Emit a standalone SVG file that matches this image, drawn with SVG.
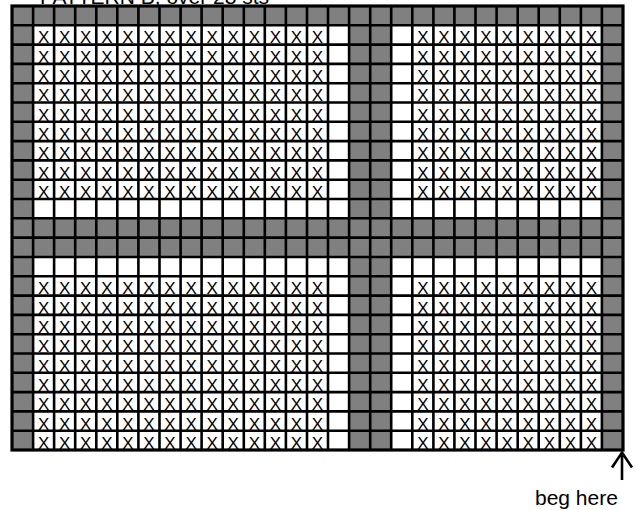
<svg xmlns="http://www.w3.org/2000/svg" xmlns:xlink="http://www.w3.org/1999/xlink" width="636" height="510" viewBox="0 0 636 510">
<style>
.lbl{font-family:"Liberation Sans",Arial,sans-serif;font-size:21px;fill:#000}
.x{font-family:"Liberation Sans",Arial,sans-serif;font-size:17px;fill:#000;text-anchor:middle}
.gray{fill:#808080}
.grid{fill:none;stroke:#000;stroke-width:2.6}
.border{fill:none;stroke:#000;stroke-width:3.2}
.arrow{fill:none;stroke:#000;stroke-width:2.6}
</style>
<defs>
<text id="xrow" class="x" x="43.6 64.7 85.7 106.8 127.9 149 170 191.1 212.2 233.2 254.3 275.4 296.4 317.5 422.9 443.9 465 486 507.1 528.2 549.3 570.3 591.4" y="0">XXXXXXXXXXXXXXXXXXXXXXX</text>
</defs>
<rect width="636" height="510" fill="#fff"/>
<text id="title" class="lbl" x="40" y="4">PATTERN B, over 28 sts</text>
<g id="chart">
<rect x="12" y="6" width="611" height="444" fill="#fff"/>
<g id="shaded">
<rect class="gray" x="12" y="6" width="611" height="19.3"/>
<rect class="gray" x="12" y="218.3" width="611" height="38.7"/>
<rect class="gray" x="12" y="6" width="21.1" height="444"/>
<rect class="gray" x="601.9" y="6" width="21.1" height="444"/>
<rect class="gray" x="349.1" y="6" width="42.1" height="444"/>
</g>
<g id="stitches">
<use xlink:href="#xrow" href="#xrow" y="43.4"/>
<use xlink:href="#xrow" href="#xrow" y="62.7"/>
<use xlink:href="#xrow" href="#xrow" y="82"/>
<use xlink:href="#xrow" href="#xrow" y="101.3"/>
<use xlink:href="#xrow" href="#xrow" y="120.6"/>
<use xlink:href="#xrow" href="#xrow" y="139.9"/>
<use xlink:href="#xrow" href="#xrow" y="159.2"/>
<use xlink:href="#xrow" href="#xrow" y="178.5"/>
<use xlink:href="#xrow" href="#xrow" y="197.8"/>
<use xlink:href="#xrow" href="#xrow" y="294.4"/>
<use xlink:href="#xrow" href="#xrow" y="313.7"/>
<use xlink:href="#xrow" href="#xrow" y="333"/>
<use xlink:href="#xrow" href="#xrow" y="352.3"/>
<use xlink:href="#xrow" href="#xrow" y="371.6"/>
<use xlink:href="#xrow" href="#xrow" y="390.9"/>
<use xlink:href="#xrow" href="#xrow" y="410.2"/>
<use xlink:href="#xrow" href="#xrow" y="429.5"/>
<use xlink:href="#xrow" href="#xrow" y="448.6"/>
</g>
<path id="gridlines" class="grid" d="M33.1 6V450M54.1 6V450M75.2 6V450M96.3 6V450M117.3 6V450M138.4 6V450M159.5 6V450M180.6 6V450M201.6 6V450M222.7 6V450M243.8 6V450M264.8 6V450M285.9 6V450M307 6V450M328 6V450M349.1 6V450M370.2 6V450M391.2 6V450M412.3 6V450M433.4 6V450M454.4 6V450M475.5 6V450M496.6 6V450M517.7 6V450M538.7 6V450M559.8 6V450M580.9 6V450M601.9 6V450M12 25.3H623M12 44.6H623M12 63.9H623M12 83.2H623M12 102.5H623M12 121.8H623M12 141.1H623M12 160.4H623M12 179.7H623M12 199H623M12 218.3H623M12 237.6H623M12 257H623M12 276.3H623M12 295.6H623M12 314.9H623M12 334.2H623M12 353.5H623M12 372.8H623M12 392.1H623M12 411.4H623M12 430.7H623"/>
<rect class="border" x="12" y="6" width="611" height="444"/>
</g>
<g id="start">
<path class="arrow" d="M622 480V453M612 467.5L622 452.5L632 467.5"/>
<text class="lbl" x="535" y="505">beg here</text>
</g>
</svg>
